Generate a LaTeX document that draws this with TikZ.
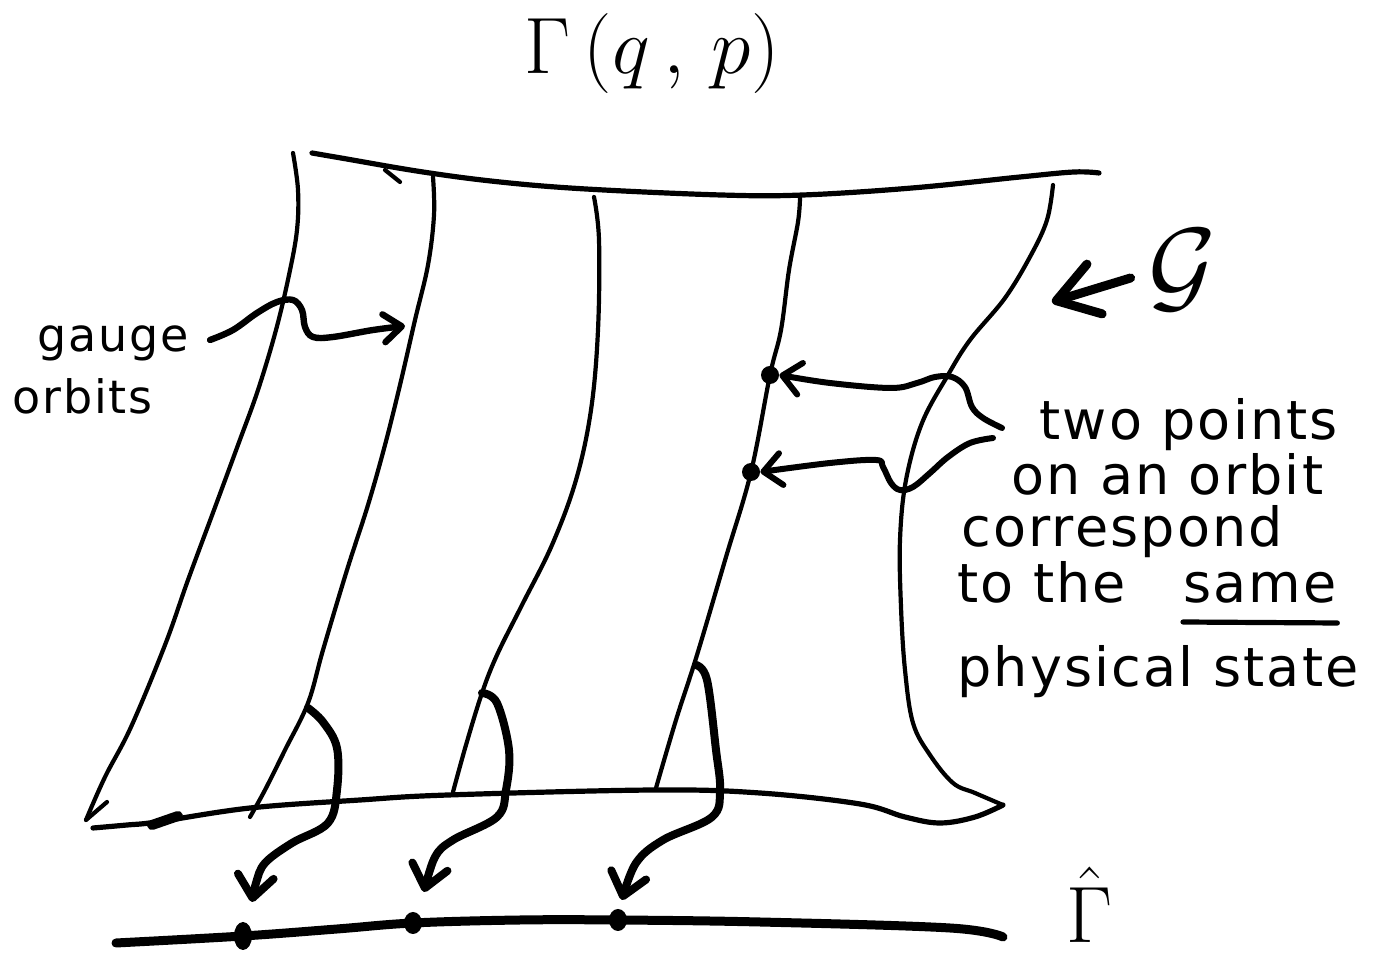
\RequirePackage{fix-cm}
\documentclass[tikz,border=0pt]{standalone}
\usepackage{fontspec}
\newfontfamily\hand[LetterSpace=4]{DejaVu Sans}
\usetikzlibrary{arrows.meta,shapes.geometric}
\begin{document}
\begin{tikzpicture}[x=0.5pt,y=-0.5pt,line cap=round,line join=round,
  orbit/.style={line width=2.1pt},
  rim/.style={line width=2.6pt},
  proj/.style={line width=4pt,-{Straight Barb[round,length=11pt,width=18pt]}},
  pointer/.style={line width=3pt,-{Straight Barb[round,length=9pt,width=16pt]}},
  garrow/.style={line width=4.5pt,-{Straight Barb[round,length=20pt,width=26pt]}},
  dot/.style={circle,fill=black,inner sep=0pt,minimum size=9pt},
  pdot/.style={ellipse,fill=black,inner sep=0pt,minimum width=9pt,minimum height=11pt},
  note/.style={font=\hand\fontsize{27}{30}\selectfont,inner sep=0pt,anchor=base west},
  small/.style={font=\hand\fontsize{23}{26}\selectfont,inner sep=0pt,anchor=base west},
  big/.style={font=\fontsize{40}{44}\selectfont,inner sep=0pt}]
\useasboundingbox (0,0) rectangle (1388,961);
\fill[white] (0,0) rectangle (1388,961);

% labels
\node[big,anchor=base] (title) at (652,74) {$\Gamma\,(q\,,\,p)$};
\node[big,anchor=base] (Gh) at (1090,943) {$\hat{\Gamma}$};
\node[font=\fontsize{52}{56}\selectfont,inner sep=1pt] (G) at (1183,270) {$\mathcal{G}$};
\node[small] (gauge) at (37,352) {gauge};
\node[small] (orbits) at (12,414) {orbits};
\node[note] (l1) at (1039,440) {two points};
\node[note] (l2) at (1011,495) {on an orbit};
\node[note] (l3) at (961,547) {correspond};
\node[note] (l4) at (957,603) {to the};
\node[note] (same) at (1183,603) {same};
\node[note] (l5) at (957,687) {physical state};
\draw[line width=2.6pt] ([yshift=-9.5pt]same.base west) -- ([yshift=-10pt]same.base east);

% upper edge of the surface
\draw[rim] plot[smooth,tension=0.6] coordinates {(312,153) (341,158) (423,172) (500,182) (586,189) (721,195) (803,195) (912,188) (1020,177) (1074,172) (1099,173)};
\draw[orbit] (385,170) -- (400,182);

% gauge orbits
\draw[orbit] plot[smooth,tension=0.6] coordinates {(293,153) (298,190) (297,230) (289,275) (276,330) (258,390) (238,445) (214,510) (188,580) (165,645) (131,727) (105,777) (86,820)};
\draw[orbit] (86,820) -- (107,802);
\draw[orbit] plot[smooth,tension=0.6] coordinates {(433,177) (434,215) (428,265) (415,320) (400,385) (385,445) (368,505) (347,570) (323,650) (308,703) (285,750) (265,790) (250,817)};
\draw[orbit] plot[smooth,tension=0.6] coordinates {(594,197) (599,240) (598,330) (591,410) (576,480) (552,545) (522,605) (497,655) (482,693) (466,745) (453,792)};
\draw[orbit] plot[smooth,tension=0.6] coordinates {(800,198) (798,222) (789,270) (781,330) (770,375) (751,472) (726,557) (697,655) (676,720) (656,788)};

% right edge running into the lower edge
\draw[orbit] plot[smooth,tension=0.6] coordinates {(1053,185) (1047,220) (1031,255) (1005,298) (970,340) (948,375) (922,423) (906,480) (900,540) (901,607) (905,670) (913,723) (930,755) (953,783) (975,793) (1003,805)};
\draw[rim] plot[smooth,tension=0.6] coordinates {(1003,805) (975,817) (940,823) (905,817) (860,804) (760,793) (654,790) (448,795) (360,800) (250,808) (157,822) (127,825) (93,828)};
\draw[line width=5pt] (152,825) -- (178,816);

% two points on one orbit
\node[dot] (dU) at (770,375) {};
\node[dot] (dL) at (751,472) {};
\coordinate (cU) at (1002,428);
\coordinate (cL) at (993,438);
\draw[pointer] plot[smooth,tension=0.6] coordinates {(cU) (983,418) (972,407) (965,387) (952,377) (935,377) (917,383) (891,388) (830,383) (dU.east)};
\draw[pointer] plot[smooth,tension=0.6] coordinates {(cL) (970,443) (948,457) (930,473) (913,487) (900,490) (891,483) (883,467) (876,460) (830,463) (dL.east)};

% pointer from the orbit label
\coordinate (gOrb) at (405,326);
\draw[line width=3.2pt,-{Straight Barb[round,length=9pt,width=14pt]}] plot[smooth,tension=0.6] coordinates {(210,340) (233,330) (257,313) (277,302) (293,300) (302,310) (305,327) (313,337) (333,337) (373,330) (gOrb)};

% arrow to the surface
\coordinate (gTip) at (1052,302);
\draw[garrow] ([xshift=-8pt,yshift=-4pt]G.west) -- (gTip);

% reduced phase space
\draw[line width=4.5pt] plot[smooth,tension=0.6] coordinates {(116,943) (243,936) (337,929) (413,923) (520,920) (618,920) (760,922) (950,928) (1003,937)};
\node[pdot,minimum height=14pt] (p1) at (243,936) {};
\node[pdot] (p2) at (413,923) {};
\node[pdot] (p3) at (618,920) {};

% projections of the orbits
\coordinate (a1) at (252,902);
\coordinate (a2) at (424,892);
\coordinate (a3) at (622,900);
\draw[proj] plot[smooth,tension=0.6] coordinates {(308,708) (323,722) (337,748) (337,790) (328,823) (292,843) (265,863) (256,883) (a1)};
\draw[proj] plot[smooth,tension=0.6] coordinates {(482,693) (497,703) (509,750) (506,790) (497,817) (453,840) (435,857) (a2)};
\draw[proj] plot[smooth,tension=0.6] coordinates {(696,665) (707,680) (716,750) (720,790) (712,817) (663,840) (636,863) (a3)};
\end{tikzpicture}
\end{document}
